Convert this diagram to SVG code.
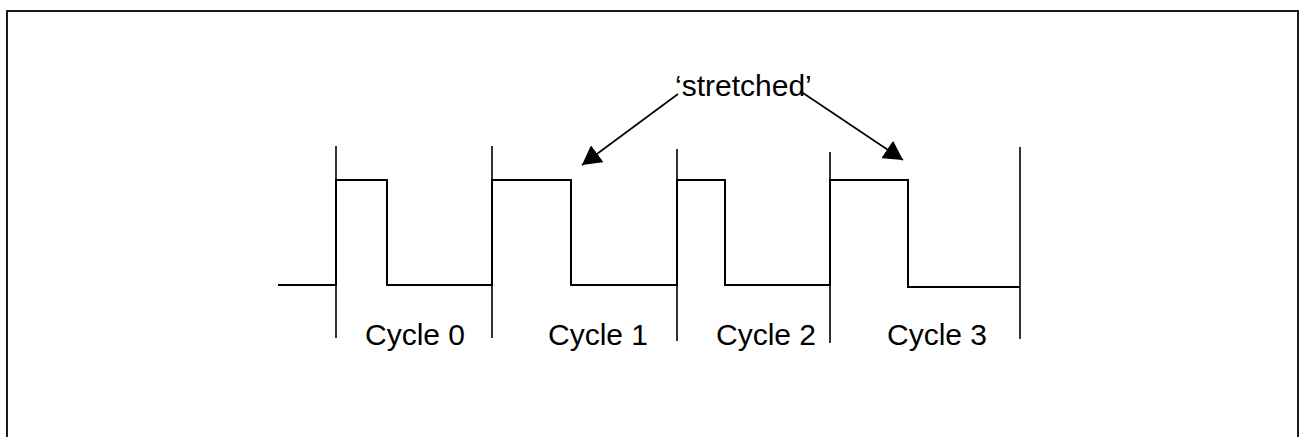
<svg xmlns="http://www.w3.org/2000/svg" width="1299" height="437" viewBox="0 0 1299 437">
  <style>
    .frame { fill: #ffffff; stroke: #1a1a1a; stroke-width: 2; }
    .wave { fill: none; stroke: #000; stroke-width: 2; stroke-linejoin: miter; }
    .tick { fill: none; stroke: #000; stroke-width: 1.6; }
    .lbl { font-family: "Liberation Sans", Arial, sans-serif; font-size: 30px; fill: #000; }
    .conn { fill: none; stroke: #000; stroke-width: 1.6; }
  </style>
  <defs>
    <marker id="arrow" viewBox="0 0 19 21" refX="19" refY="10.5" markerWidth="19" markerHeight="21" markerUnits="userSpaceOnUse" orient="auto">
      <path d="M0 0 L19 10.5 L0 21 Z" fill="#000"/>
    </marker>
  </defs>
  <rect class="frame" x="7" y="11" width="1291" height="450"/>
  <g id="clock-signal">
    <path class="wave" d="M278 285 H336 V180 H387 V285 H492 V180 H571 V285 H677 V180 H725 V285 H830 V180 H908 V287 H1020"/>
  </g>
  <g id="cycle-boundaries">
    <line class="tick" x1="336" y1="146" x2="336" y2="338"/>
    <line class="tick" x1="492" y1="146" x2="492" y2="338"/>
    <line class="tick" x1="677" y1="149" x2="677" y2="341"/>
    <line class="tick" x1="830" y1="152" x2="830" y2="343"/>
    <line class="tick" x1="1020" y1="147" x2="1020" y2="339"/>
  </g>
  <g id="cycle-0"><text class="lbl" x="365" y="345">Cycle 0</text></g>
  <g id="cycle-1"><text class="lbl" x="548" y="345">Cycle 1</text></g>
  <g id="cycle-2"><text class="lbl" x="716" y="345">Cycle 2</text></g>
  <g id="cycle-3"><text class="lbl" x="887" y="345">Cycle 3</text></g>
  <g id="stretched-label"><text class="lbl" x="675" y="96">‘stretched’</text></g>
  <g id="connectors">
    <line class="conn" x1="678" y1="94" x2="582" y2="165" marker-end="url(#arrow)"/>
    <line class="conn" x1="803" y1="93" x2="903" y2="160" marker-end="url(#arrow)"/>
  </g>
</svg>
